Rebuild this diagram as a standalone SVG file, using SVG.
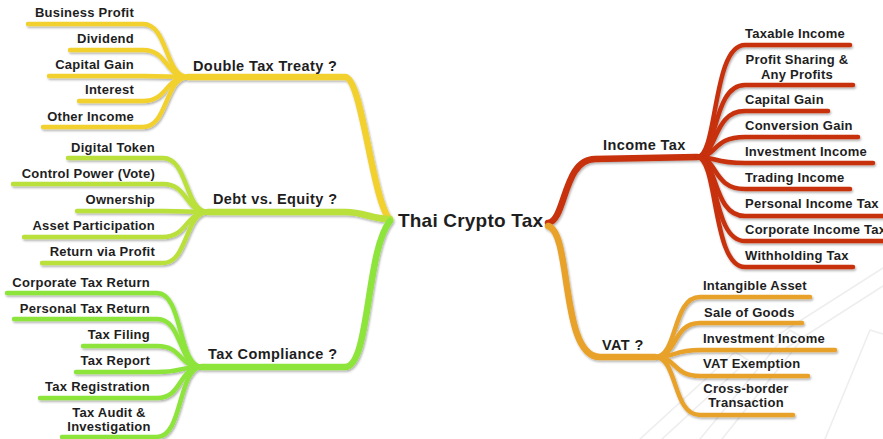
<svg xmlns="http://www.w3.org/2000/svg" width="883" height="439" viewBox="0 0 883 439">
  <defs>
    <filter id="shade" x="-5%" y="-5%" width="110%" height="115%">
      <feDropShadow dx="1" dy="1.6" stdDeviation="0.9" flood-color="#000" flood-opacity="0.32"/>
    </filter>
  </defs>
  <style>
    text { font-family: "Liberation Sans", Arial, Helvetica, sans-serif; font-weight: bold; fill: #1e1e1e; }
    .leaf { font-size: 13px; letter-spacing: 0.25px; }
    .branch { font-size: 14.5px; letter-spacing: 0.4px; }
    .root { font-size: 19px; letter-spacing: 0.2px; }
    .end { text-anchor: end; }
    .mid { text-anchor: middle; }
    path { fill: none; stroke-linecap: round; stroke-linejoin: round; }
    .trunk { stroke-width: 6.5; }
    .twig { stroke-width: 4.5; }
    .yellow { stroke: #F2D12F; }
    .lime { stroke: #B9E03B; }
    .green { stroke: #8DE43B; }
    .red { stroke: #C7300F; }
    .orange { stroke: #E8A22C; }
    .mark { stroke: #eeeeee; stroke-width: 1.6; fill: none; }
  </style>

  <rect width="883" height="439" fill="#ffffff"/>

  <!-- faint background mark, lower right -->
  <g id="backdrop">
    <path class="mark" d="M 640 439 L 735 352 L 748 360 L 662 439"/>
    <path class="mark" d="M 700 439 L 790 330 L 803 338 L 722 439"/>
    <path class="mark" d="M 770 340 L 883 268 M 780 352 L 883 286"/>
    <path class="mark" d="M 825 439 L 870 330 L 883 334"/>
  </g>

  <g id="connectors" filter="url(#shade)">
    <!-- Double Tax Treaty -->
    <path class="trunk yellow" d="M 188 77 L 345 77 C 362 77, 372 200, 390 220"/>
    <path class="twig yellow" d="M 188 77 C 165 77, 168 24, 143 24 L 28 24"/>
    <path class="twig yellow" d="M 188 77 C 165 77, 168 50, 143 50 L 70 50"/>
    <path class="twig yellow" d="M 188 77 C 165 77, 168 76, 143 76 L 49 76"/>
    <path class="twig yellow" d="M 188 77 C 165 77, 168 101, 143 101 L 79 101"/>
    <path class="twig yellow" d="M 188 77 C 165 77, 168 127, 143 127 L 43 127"/>

    <!-- Debt vs. Equity -->
    <path class="trunk lime" d="M 208 212 L 345 212 C 365 212, 370 219, 390 219"/>
    <path class="twig lime" d="M 208 212 C 185 212, 188 158, 163 158 L 68 158"/>
    <path class="twig lime" d="M 208 212 C 185 212, 188 184, 163 184 L 13 184"/>
    <path class="twig lime" d="M 208 212 C 185 212, 188 211, 163 211 L 77 211"/>
    <path class="twig lime" d="M 208 212 C 185 212, 188 237, 163 237 L 24 237"/>
    <path class="twig lime" d="M 208 212 C 185 212, 188 263, 163 263 L 42 263"/>

    <!-- Tax Compliance -->
    <path class="trunk green" d="M 202 367 L 345 367 C 370 367, 366 250, 390 221"/>
    <path class="twig green" d="M 202 367 C 178 367, 183 293, 157 293 L 7 293"/>
    <path class="twig green" d="M 202 367 C 178 367, 183 319, 157 319 L 14 319"/>
    <path class="twig green" d="M 202 367 C 178 367, 183 346, 157 346 L 83 346"/>
    <path class="twig green" d="M 202 367 C 178 367, 183 372, 157 372 L 76 372"/>
    <path class="twig green" d="M 202 367 C 178 367, 183 398, 157 398 L 40 398"/>
    <path class="twig green" d="M 202 367 C 178 367, 183 437, 157 437 L 62 437"/>

    <!-- Income Tax -->
    <path class="trunk red" d="M 548 223 C 566 221, 563 159, 595 159 L 697 157"/>
    <path class="twig red" d="M 697 157 C 718 157, 712 45, 745 45 L 850 45"/>
    <path class="twig red" d="M 697 157 C 718 157, 712 85, 745 85 L 853 85"/>
    <path class="twig red" d="M 697 157 C 718 157, 712 111, 745 111 L 828 111"/>
    <path class="twig red" d="M 697 157 C 718 157, 712 137, 745 137 L 858 137"/>
    <path class="twig red" d="M 697 157 C 718 157, 712 163, 745 163 L 873 163"/>
    <path class="twig red" d="M 697 157 C 718 157, 712 189, 745 189 L 850 189"/>
    <path class="twig red" d="M 697 157 C 718 157, 712 216, 745 216 L 892 216"/>
    <path class="twig red" d="M 697 157 C 718 157, 712 241, 745 241 L 892 241"/>
    <path class="twig red" d="M 697 157 C 718 157, 712 267, 745 267 L 853 267"/>

    <!-- VAT -->
    <path class="trunk orange" d="M 548 226 C 572 232, 560 357, 600 357 L 655 357"/>
    <path class="twig orange" d="M 655 357 C 678 357, 672 297, 700 297 L 810 297"/>
    <path class="twig orange" d="M 655 357 C 678 357, 672 323, 700 323 L 802 323"/>
    <path class="twig orange" d="M 655 357 C 678 357, 672 350, 700 350 L 835 350"/>
    <path class="twig orange" d="M 655 357 C 678 357, 672 376, 700 376 L 808 376"/>
    <path class="twig orange" d="M 655 357 C 678 357, 672 415, 700 415 L 793 415"/>
  </g>

  <g id="root">
    <text class="root" x="398" y="227">Thai Crypto Tax</text>
  </g>

  <g id="double-tax-treaty">
    <text class="branch" x="193" y="71">Double Tax Treaty ?</text>
  </g>
  <g id="dtt-business-profit"><text class="leaf end" x="134" y="17">Business Profit</text></g>
  <g id="dtt-dividend"><text class="leaf end" x="134" y="43">Dividend</text></g>
  <g id="dtt-capital-gain"><text class="leaf end" x="134" y="69">Capital Gain</text></g>
  <g id="dtt-interest"><text class="leaf end" x="134" y="94">Interest</text></g>
  <g id="dtt-other-income"><text class="leaf end" x="134" y="121">Other Income</text></g>

  <g id="debt-vs-equity">
    <text class="branch" x="213" y="204">Debt vs. Equity ?</text>
  </g>
  <g id="dve-digital-token"><text class="leaf end" x="155" y="152">Digital Token</text></g>
  <g id="dve-control-power"><text class="leaf end" x="155" y="178">Control Power (Vote)</text></g>
  <g id="dve-ownership"><text class="leaf end" x="155" y="204">Ownership</text></g>
  <g id="dve-asset-participation"><text class="leaf end" x="155" y="230">Asset Participation</text></g>
  <g id="dve-return-via-profit"><text class="leaf end" x="155" y="256">Return via Profit</text></g>

  <g id="tax-compliance">
    <text class="branch" x="208" y="359">Tax Compliance ?</text>
  </g>
  <g id="tc-corporate-return"><text class="leaf end" x="150" y="287">Corporate Tax Return</text></g>
  <g id="tc-personal-return"><text class="leaf end" x="150" y="313">Personal Tax Return</text></g>
  <g id="tc-filing"><text class="leaf end" x="150" y="339">Tax Filing</text></g>
  <g id="tc-report"><text class="leaf end" x="150" y="365">Tax Report</text></g>
  <g id="tc-registration"><text class="leaf end" x="150" y="391">Tax Registration</text></g>
  <g id="tc-audit">
    <text class="leaf mid" x="109" y="417">Tax Audit &amp;</text>
    <text class="leaf mid" x="109" y="431">Investigation</text>
  </g>

  <g id="income-tax">
    <text class="branch" x="603" y="150">Income Tax</text>
  </g>
  <g id="it-taxable-income"><text class="leaf" x="745" y="38">Taxable Income</text></g>
  <g id="it-profit-sharing">
    <text class="leaf mid" x="797" y="64">Profit Sharing &amp;</text>
    <text class="leaf mid" x="797" y="78.5">Any Profits</text>
  </g>
  <g id="it-capital-gain"><text class="leaf" x="745" y="104">Capital Gain</text></g>
  <g id="it-conversion-gain"><text class="leaf" x="745" y="130">Conversion Gain</text></g>
  <g id="it-investment-income"><text class="leaf" x="745" y="156">Investment Income</text></g>
  <g id="it-trading-income"><text class="leaf" x="745" y="182">Trading Income</text></g>
  <g id="it-personal-income-tax"><text class="leaf" x="745" y="208">Personal Income Tax</text></g>
  <g id="it-corporate-income-tax"><text class="leaf" x="745" y="234">Corporate Income Tax</text></g>
  <g id="it-withholding-tax"><text class="leaf" x="745" y="260">Withholding Tax</text></g>

  <g id="vat">
    <text class="branch" x="602" y="350">VAT ?</text>
  </g>
  <g id="vat-intangible-asset"><text class="leaf" x="703" y="290">Intangible Asset</text></g>
  <g id="vat-sale-of-goods"><text class="leaf" x="704" y="317">Sale of Goods</text></g>
  <g id="vat-investment-income"><text class="leaf" x="703" y="343">Investment Income</text></g>
  <g id="vat-exemption"><text class="leaf" x="703" y="368">VAT Exemption</text></g>
  <g id="vat-cross-border">
    <text class="leaf mid" x="746" y="393">Cross-border</text>
    <text class="leaf mid" x="746" y="407">Transaction</text>
  </g>
</svg>
